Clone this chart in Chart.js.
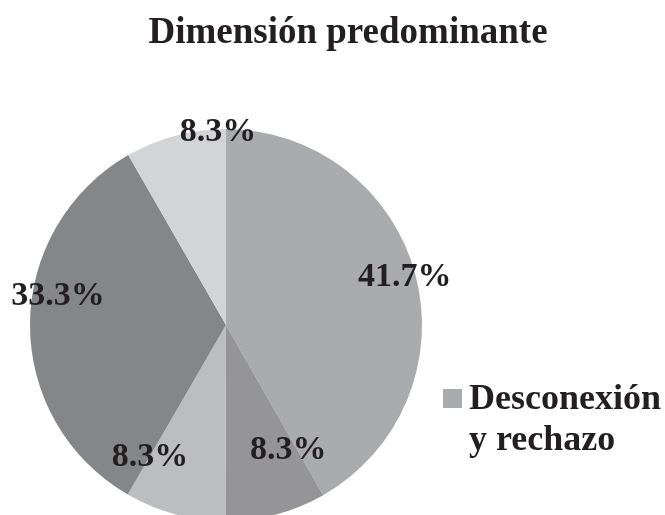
<!DOCTYPE html>
<html>
<head>
<meta charset="utf-8">
<script src="https://cdn.jsdelivr.net/npm/chart.js@4/dist/chart.umd.min.js"></script>
<style>
  html, body { margin: 0; padding: 0; background: #ffffff; overflow: hidden; }
  #wrap { width: 665px; height: 515px; overflow: hidden; position: relative; }
  canvas { display: block; }
</style>
</head>
<body>
<div id="wrap"><canvas id="c" width="665" height="535"></canvas></div>
<script>
const chartTitle = "Dimensión predominante";
const categories = ["Desconexión y rechazo", "Categoría 2", "Categoría 3", "Categoría 4", "Categoría 5"];
const values = [41.7, 8.3, 8.3, 33.3, 8.3];
const sliceColors = ["#aaabad", "#959597", "#bcbdbf", "#858688", "#d3d4d6"];
const legendLines = ["Desconexión", "y rechazo"];
// label placement: fraction of radius, fraction along slice angle
const labelRadius = [0.944, 0.714, 0.78, 0.87, 0.985];
const labelAngleFrac = [0.5, 0.11, 0.99, 0.58, 0.92];

const textColor = "#231f20";
const fontFamily = "'Liberation Serif', 'Times New Roman', serif";

const overlayPlugin = {
  id: "overlay",
  afterDatasetsDraw(chart) {
    const ctx = chart.ctx;
    const meta = chart.getDatasetMeta(0);
    ctx.save();
    ctx.fillStyle = textColor;
    ctx.font = "bold 34px " + fontFamily;
    ctx.textAlign = "center";
    ctx.textBaseline = "middle";
    meta.data.forEach((arc, i) => {
      const p = arc.getProps(["x", "y", "startAngle", "endAngle", "outerRadius"], true);
      const a = p.startAngle + labelAngleFrac[i] * (p.endAngle - p.startAngle);
      const r = labelRadius[i] * p.outerRadius;
      ctx.fillText(values[i].toFixed(1) + "%", p.x + Math.cos(a) * r, p.y + Math.sin(a) * r);
    });
    // title
    ctx.font = "bold 37px " + fontFamily;
    ctx.textBaseline = "alphabetic";
    ctx.fillText(chartTitle, 348, 43);
    // legend (first entry)
    ctx.fillStyle = sliceColors[0];
    ctx.fillRect(443, 389, 19, 19);
    ctx.fillStyle = textColor;
    ctx.font = "bold 36px " + fontFamily;
    ctx.textAlign = "left";
    ctx.fillText(legendLines[0], 469, 409);
    ctx.fillText(legendLines[1], 469, 450);
    ctx.restore();
  }
};

new Chart(document.getElementById("c"), {
  type: "pie",
  data: {
    labels: categories,
    datasets: [{
      data: values,
      backgroundColor: sliceColors,
      borderWidth: 0
    }]
  },
  options: {
    responsive: false,
    animation: false,
    layout: { padding: { left: 30, top: 129, right: 243, bottom: 14 } },
    plugins: {
      legend: { display: false },
      title: { display: false },
      tooltip: { enabled: false }
    }
  },
  plugins: [overlayPlugin]
});
</script>
</body>
</html>
